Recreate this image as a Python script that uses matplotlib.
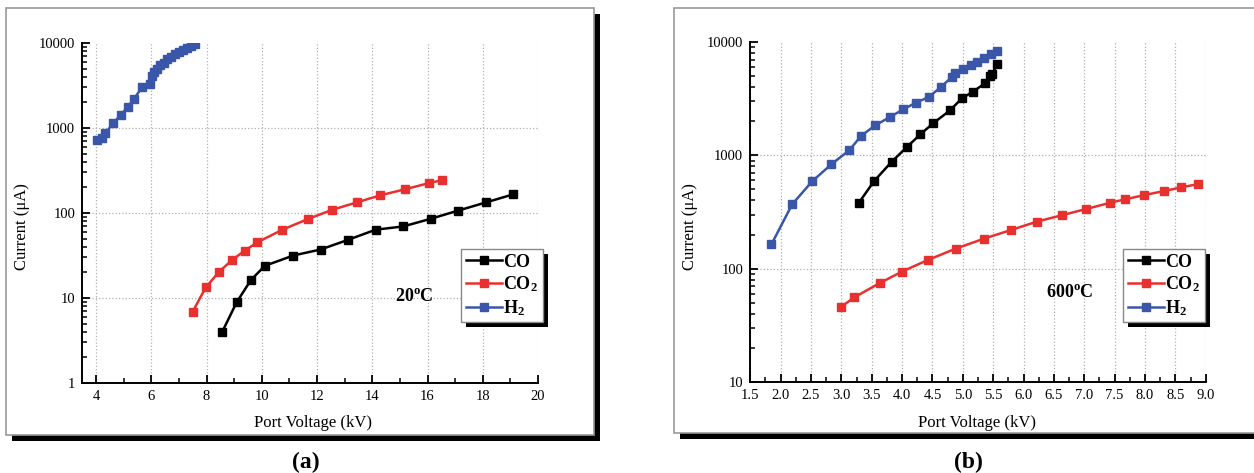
import matplotlib
matplotlib.use('Agg')
import matplotlib.pyplot as plt
from matplotlib.patches import Rectangle
from matplotlib.ticker import MultipleLocator, LogLocator, NullFormatter

plt.rcParams['font.family'] = 'Liberation Serif'
plt.rcParams['mathtext.fontset'] = 'custom'
plt.rcParams['mathtext.rm'] = 'Liberation Serif'
plt.rcParams['mathtext.bf'] = 'Liberation Serif:bold'

# (a) 20 C
a_co_x = [8.57, 9.09, 9.61, 10.11, 11.14, 12.13, 13.13, 14.12, 15.12, 16.13, 17.12, 18.11, 19.11]
a_co_y = [4.0, 8.9, 16.3, 23.9, 31.6, 37.2, 48.4, 63.6, 69.5, 85.7, 107, 133, 166]
a_co2_x = [7.50, 7.97, 8.46, 8.93, 9.39, 9.83, 10.75, 11.66, 12.55, 13.43, 14.28, 15.18, 16.06, 16.52]
a_co2_y = [6.9, 13.3, 20.4, 28.1, 36.1, 45, 63.6, 84.7, 109, 133, 161, 190, 225, 243]
a_h2_x = [4.05, 4.21, 4.33, 4.63, 4.90, 5.15, 5.36, 5.67, 5.96, 6.04, 6.11, 6.21, 6.33, 6.45,
          6.57, 6.72, 6.87, 6.99, 7.15, 7.30, 7.44, 7.58]
a_h2_y = [718, 773, 863, 1148, 1432, 1770, 2168, 3020, 3311, 4055, 4613, 4966, 5445, 5861,
          6427, 6918, 7447, 7870, 8318, 8790, 9290, 9638]

# (b) 600 C
b_co_x = [3.29, 3.54, 3.83, 4.08, 4.30, 4.51, 4.79, 4.99, 5.17, 5.37, 5.44, 5.48, 5.57]
b_co_y = [382, 593, 879, 1184, 1531, 1914, 2494, 3206, 3648, 4345, 4977, 5257, 6350]
b_co2_x = [2.99, 3.21, 3.63, 4.00, 4.42, 4.88, 5.35, 5.79, 6.22, 6.63, 7.03, 7.43, 7.67,
           7.99, 8.31, 8.59, 8.87]
b_co2_y = [45.7, 55.7, 74.5, 94.3, 119, 150, 184, 219, 260, 296, 336, 382, 409, 446, 484, 521, 557]
b_h2_x = [1.85, 2.19, 2.52, 2.835, 3.13, 3.33, 3.56, 3.80, 4.02, 4.23, 4.44, 4.64, 4.82, 4.87,
          5.00, 5.13, 5.24, 5.35, 5.46, 5.56]
b_h2_y = [164, 369, 590, 833, 1107, 1492, 1841, 2178, 2546, 2917, 3271, 4009, 4911, 5324,
          5777, 6309, 6653, 7278, 7892, 8338]

W, H = 1254, 473
fig = plt.figure(figsize=(W / 100, H / 100), dpi=100)


def box(x0, y0, x1, y1):
    # pixel box (top-left origin) -> figure coords
    return [x0 / W, 1 - y1 / H, (x1 - x0) / W, (y1 - y0) / H]


# panel frames with black drop shadow
for (x0, y0, x1, y1) in [(6, 8, 594, 435), (674, 8, 1262, 433)]:
    fig.patches.append(Rectangle((x0 / W + 6 / W, 1 - (y1 + 6) / H), (x1 - x0) / W, (y1 - y0) / H,
                                 transform=fig.transFigure, facecolor='black', edgecolor='none', zorder=-3))
    fig.patches.append(Rectangle((x0 / W, 1 - y1 / H), (x1 - x0) / W, (y1 - y0) / H,
                                 transform=fig.transFigure, facecolor='white', edgecolor='#999999',
                                 linewidth=1.2, zorder=-2))

red = '#e8302f'
blue = '#3a56a8'
labels = ['$\\mathbf{CO}$', '$\\mathbf{CO_2}$', '$\\mathbf{H_2}$']

panels = [
    dict(rect=box(82.2, 43, 538, 383), xlim=(3.5, 20), ylim=(1, 10000), major=2, minor=1,
         data=[(a_co_x, a_co_y), (a_co2_x, a_co2_y), (a_h2_x, a_h2_y)],
         temp='20$^{\\mathbf{o}}$C', tpos=(414, 297), leg=(461, 249), ylab=22, xlab=313, tag='(a)', tagx=306),
    dict(rect=box(750.2, 42, 1205.8, 382), xlim=(1.5, 9.0), ylim=(10, 10000), major=0.5, minor=0.25,
         data=[(b_co_x, b_co_y), (b_co2_x, b_co2_y), (b_h2_x, b_h2_y)],
         temp='600$^{\\mathbf{o}}$C', tpos=(1070, 293), leg=(1123, 249), ylab=690, xlab=977, tag='(b)', tagx=968),
]

for p in panels:
    ax = fig.add_axes(p['rect'])
    ax.set_facecolor('none')
    for (xs, ys), c, lab in zip(p['data'], ['black', red, blue], labels):
        ax.plot(xs, ys, color=c, marker='s', markersize=6, linewidth=1.8, label=lab, zorder=3)
    ax.set_yscale('log')
    ax.set_xlim(*p['xlim'])
    ax.set_ylim(*p['ylim'])
    ax.xaxis.set_major_locator(MultipleLocator(p['major']))
    ax.xaxis.set_minor_locator(MultipleLocator(p['minor']))
    if p['major'] == 0.5:
        ax.xaxis.set_major_formatter(plt.FormatStrFormatter('%.1f'))
    ax.yaxis.set_major_locator(LogLocator(base=10, numticks=10))
    ax.yaxis.set_minor_locator(LogLocator(base=10, subs=range(2, 10), numticks=20))
    ax.yaxis.set_minor_formatter(NullFormatter())
    ax.yaxis.set_major_formatter(plt.FuncFormatter(lambda v, pos: '%d' % round(v)))
    for s in ['top', 'right']:
        ax.spines[s].set_visible(False)
    for s in ['left', 'bottom']:
        ax.spines[s].set_linewidth(1.4)
    ax.tick_params(which='major', direction='in', length=6, width=1.3, labelsize=10.5, pad=5)
    ax.tick_params(which='minor', direction='in', length=3.5, width=1.1)
    ax.grid(True, which='major', linestyle=':', color='#b0b0b0', linewidth=0.9)

    leg = ax.legend(loc='upper left', bbox_to_anchor=(p['leg'][0] / W, 1 - p['leg'][1] / H),
                    bbox_transform=fig.transFigure, borderaxespad=0, fancybox=False,
                    edgecolor='#888888', framealpha=1, prop={'size': 13}, handlelength=2.0,
                    handletextpad=0.1, labelspacing=0.22, borderpad=0.25)
    leg.get_frame().set_linewidth(1.0)

    fig.text(p['tpos'][0] / W, 1 - p['tpos'][1] / H, p['temp'], fontsize=13, fontweight='bold',
             ha='center', va='center')
    fig.text(p['ylab'] / W, 1 - 227 / H, 'Current (\u03bcA)', rotation=90, fontsize=12,
             ha='center', va='center')
    fig.text(p['xlab'] / W, 1 - 423 / H, 'Port Voltage (kV)', fontsize=12, ha='center', va='center')
    fig.text(p['tagx'] / W, 1 - 462 / H, p['tag'], fontsize=17, fontweight='bold', ha='center', va='center')
    p['ax'] = ax
    p['legend'] = leg

fig.canvas.draw()
for p in panels:
    ax = p['ax']
    top = ax.get_ylim()[1]
    for t, loc in zip(ax.yaxis.get_major_ticks(), ax.yaxis.get_majorticklocs()):
        if loc >= top * 0.999:
            t.gridline.set_visible(False)
    bb = p['legend'].get_window_extent().transformed(fig.transFigure.inverted())
    sh = Rectangle((bb.x0 + 5 / W, bb.y0 - 5 / H), bb.width, bb.height, transform=fig.transFigure,
                   facecolor='black', edgecolor='none', zorder=4.5, clip_on=False)
    ax.add_patch(sh)

fig.savefig('out.png', dpi=100)
